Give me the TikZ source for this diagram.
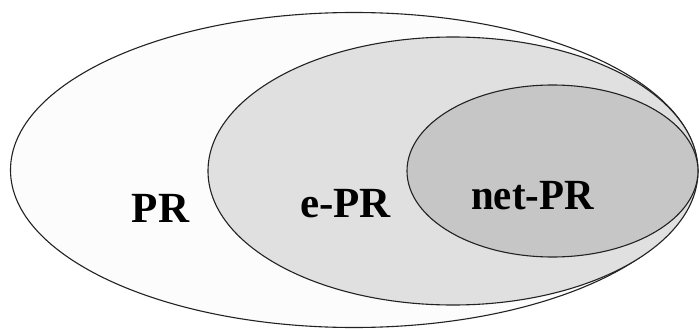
\documentclass[tikz,border=0pt]{standalone}
\usepackage{fontspec}
\setmainfont{Liberation Serif}
\definecolor{outerfill}{HTML}{FCFCFC}
\definecolor{midfill}{HTML}{E0E0E0}
\definecolor{innerfill}{HTML}{C6C6C6}
\definecolor{edge}{HTML}{222222}
\begin{document}
\begin{tikzpicture}[x=1pt,y=-1pt,
  setline/.style={draw=edge,line width=1.1pt},
  lab/.style={anchor=base,inner sep=0pt,font=\fontsize{43}{43}\selectfont\bfseries}]
\useasboundingbox (0,0) rectangle (699,329);
\fill[white] (0,0) rectangle (699,329);
\path[setline,fill=outerfill] (354,170) ellipse [x radius=343.5,y radius=157.5];
\path[setline,fill=midfill] (453,171) ellipse [x radius=245,y radius=134];
\path[setline,fill=innerfill] (552.5,171) ellipse [x radius=145.5,y radius=86];
\node[lab] (pr) at (160.5,222) {PR};
\node[lab] (epr) at (345.5,217) {e-PR};
\node[lab,xscale=0.95] (netpr) at (532.5,209) {net-PR};
\end{tikzpicture}
\end{document}
